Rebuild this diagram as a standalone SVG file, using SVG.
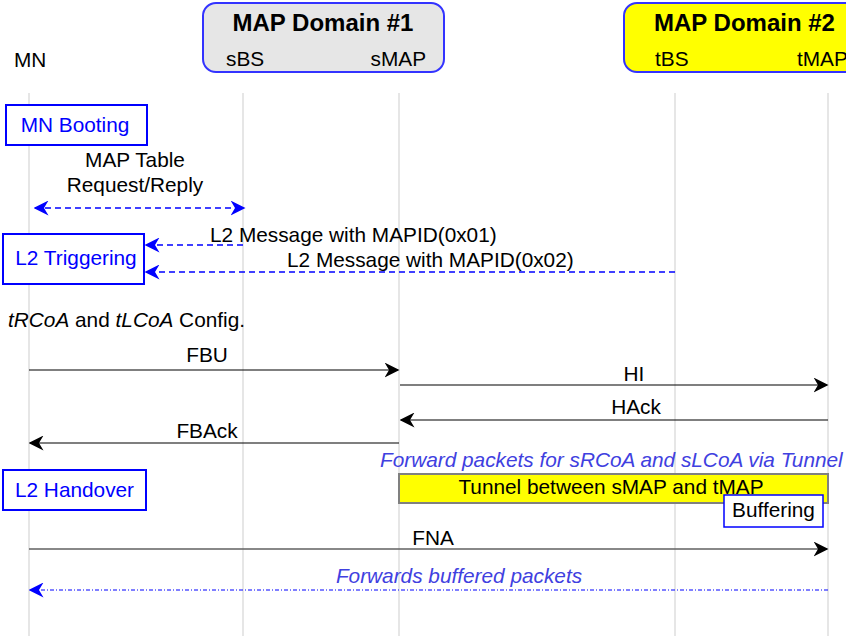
<svg xmlns="http://www.w3.org/2000/svg" width="846" height="636" viewBox="0 0 846 636">
  <style>
    text { font-family: "Liberation Sans", Arial, sans-serif; font-size: 20.8px; fill: #000; }
    .title { font-size: 24px; font-weight: bold; }
    .blue { fill: #0000ff; }
    .note { fill: #4040e0; font-style: italic; }
    .life { stroke: #e6e6e6; stroke-width: 2; fill: none; }
    .state { fill: #fff; stroke: #0000ff; stroke-width: 2; }
    .msg { stroke: #000; stroke-width: 1.2; fill: none; }
    .dash { stroke: #0000ff; stroke-width: 1.6; stroke-dasharray: 6 4; fill: none; }
    .dashdot { stroke: #0000ff; stroke-width: 1; stroke-dasharray: 4 2 1 2; fill: none; }
  </style>
  <defs>
    <marker id="arrowBlack" viewBox="0 0 10 10" refX="9" refY="5" markerWidth="15" markerHeight="15" markerUnits="userSpaceOnUse" orient="auto-start-reverse">
      <path d="M0,0 L10,5 L0,10 L3,5 z" fill="#000"/>
    </marker>
    <marker id="arrowBlue" viewBox="0 0 10 10" refX="9" refY="5" markerWidth="15" markerHeight="15" markerUnits="userSpaceOnUse" orient="auto-start-reverse">
      <path d="M0,0 L10,5 L0,10 L3,5 z" fill="#0000ff"/>
    </marker>
  </defs>

  <rect width="846" height="636" fill="#fff"/>

  <!-- lifelines -->
  <g id="lifelines">
    <line class="life" x1="29" y1="93" x2="29" y2="636"/>
    <line class="life" x1="243" y1="93" x2="243" y2="636"/>
    <line class="life" x1="399" y1="93" x2="399" y2="636"/>
    <line class="life" x1="675" y1="93" x2="675" y2="636"/>
    <line class="life" x1="828" y1="93" x2="828" y2="636"/>
  </g>

  <!-- participants -->
  <g id="mn">
    <text x="14" y="67">MN</text>
  </g>
  <g id="domain1">
    <rect x="203" y="3" width="241" height="69" rx="13" fill="#e6e6e6" stroke="#3333ff" stroke-width="2"/>
    <text class="title" x="323" y="31" text-anchor="middle">MAP Domain #1</text>
    <text x="226" y="66">sBS</text>
    <text x="426" y="66" text-anchor="end">sMAP</text>
  </g>
  <g id="domain2">
    <rect x="624" y="3" width="241" height="69" rx="13" fill="#ffff00" stroke="#3333ff" stroke-width="2"/>
    <text class="title" x="654" y="31">MAP Domain #2</text>
    <text x="655" y="66">tBS</text>
    <text x="797" y="66">tMAP</text>
  </g>

  <!-- state boxes -->
  <g id="mn-booting">
    <rect class="state" x="6" y="105" width="141" height="40"/>
    <text class="blue" x="75" y="132" text-anchor="middle">MN Booting</text>
  </g>
  <g id="l2-triggering">
    <rect class="state" x="3" y="234" width="141" height="50"/>
    <text class="blue" x="76" y="265" text-anchor="middle">L2 Triggering</text>
  </g>
  <g id="config">
    <text x="8" y="327"><tspan font-style="italic">tRCoA</tspan> and <tspan font-style="italic">tLCoA</tspan> Config.</text>
  </g>
  <g id="l2-handover">
    <rect class="state" x="3" y="470" width="143" height="40"/>
    <text class="blue" x="74.5" y="497" text-anchor="middle">L2 Handover</text>
  </g>

  <!-- tunnel -->
  <g id="tunnel">
    <rect x="399" y="474" width="429" height="29" fill="#ffff00" stroke="#808080" stroke-width="2"/>
    <text x="611" y="494" text-anchor="middle">Tunnel between sMAP and tMAP</text>
  </g>
  <g id="buffering">
    <rect x="724" y="495" width="99" height="32" fill="#fff" stroke="#0000ff" stroke-width="1.5"/>
    <text x="773.5" y="517" text-anchor="middle">Buffering</text>
  </g>

  <!-- messages -->
  <g id="connectors">
    <line class="dash" x1="35" y1="208" x2="244" y2="208" marker-start="url(#arrowBlue)" marker-end="url(#arrowBlue)"/>
    <line class="dash" x1="243" y1="245" x2="146" y2="245" marker-end="url(#arrowBlue)"/>
    <line class="dash" x1="675" y1="272" x2="146" y2="272" marker-end="url(#arrowBlue)"/>
    <line class="msg" x1="29" y1="370" x2="398" y2="370" marker-end="url(#arrowBlack)"/>
    <line class="msg" x1="400" y1="385" x2="827" y2="385" marker-end="url(#arrowBlack)"/>
    <line class="msg" x1="828" y1="420" x2="401" y2="420" marker-end="url(#arrowBlack)"/>
    <line class="msg" x1="399" y1="443" x2="30" y2="443" marker-end="url(#arrowBlack)"/>
    <line x1="29" y1="549" x2="827" y2="549" stroke="#606060" stroke-width="1.5" marker-end="url(#arrowBlack)"/>
    <line class="dashdot" x1="828" y1="590" x2="30" y2="590" marker-end="url(#arrowBlue)"/>
  </g>

  <!-- message labels -->
  <g id="labels">
    <text x="135" y="167" text-anchor="middle">MAP Table</text>
    <text x="135" y="192" text-anchor="middle">Request/Reply</text>
    <text x="210" y="242">L2 Message with MAPID(0x01)</text>
    <text x="287" y="267">L2 Message with MAPID(0x02)</text>
    <text x="207" y="362" text-anchor="middle">FBU</text>
    <text x="634" y="381" text-anchor="middle">HI</text>
    <text x="636" y="414" text-anchor="middle">HAck</text>
    <text x="207" y="438" text-anchor="middle">FBAck</text>
    <text class="note" x="380" y="467">Forward packets for sRCoA and sLCoA via Tunnel</text>
    <text x="433" y="545" text-anchor="middle">FNA</text>
    <text class="note" x="459" y="583" text-anchor="middle">Forwards buffered packets</text>
  </g>
</svg>
